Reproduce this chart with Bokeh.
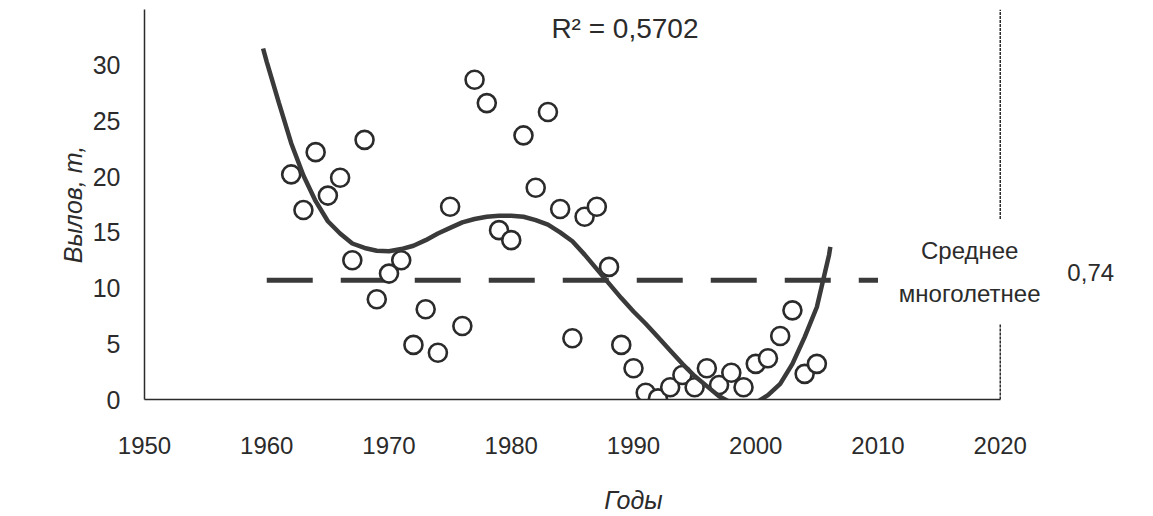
from bokeh.plotting import figure
from bokeh.models import Range1d, Label, FixedTicker
from bokeh.embed import file_html
from bokeh.resources import INLINE

# ---- data ----
years = list(range(1962, 2006))
catch = [20.2, 17.0, 22.2, 18.3, 19.9, 12.5, 23.3, 9.0, 11.3, 12.5,
         4.9, 8.1, 4.2, 17.3, 6.6, 28.7, 26.6, 15.2, 14.3, 23.7,
         19.0, 25.8, 17.1, 5.5, 16.4, 17.3, 11.9, 4.9, 2.8, 0.6,
         0.1, 1.1, 2.2, 1.1, 2.8, 1.3, 2.4, 1.1, 3.2, 3.7,
         5.7, 8.0, 2.3, 3.2]

trend_years = [1959.7] + list(range(1960, 2007)) + [2006.1]
trend_vals = [31.5, 30.3, 26.6, 23.0, 20.1, 17.8, 16.0, 14.9, 14.0, 13.6, 13.35,
              13.3, 13.5, 13.8, 14.3, 14.9, 15.4, 15.9, 16.2, 16.4, 16.5,
              16.5, 16.4, 16.1, 15.7, 15.0, 14.2, 13.0, 11.7, 10.4, 9.1,
              7.9, 6.8, 5.6, 4.4, 3.2, 2.1, 1.2, 0.3, -0.3, -0.5,
              -0.3, 0.4, 1.4, 3.2, 5.6, 8.3, 13.0, 13.7]

mean_years = [1960, 2010]
mean_value = 10.7

x_ticks = [1950, 1960, 1970, 1980, 1990, 2000, 2010, 2020]
y_ticks = [0, 5, 10, 15, 20, 25, 30]

FONT = "Liberation Sans"
INK = "#2b2b2b"

p = figure(width=1137, height=516, output_backend="svg", toolbar_location=None,
           x_range=Range1d(1950, 2030), y_range=Range1d(0, 35),
           min_border_left=144, min_border_right=15, min_border_top=9,
           min_border_bottom=117)
p.outline_line_color = None
p.xgrid.visible = False
p.ygrid.visible = False
p.background_fill_color = "white"
p.border_fill_color = "white"

for ax in (p.xaxis[0], p.yaxis[0]):
    ax.major_tick_line_color = None
    ax.minor_tick_line_color = None
    ax.major_tick_in = 0
    ax.major_tick_out = 0
    ax.axis_line_color = INK
    ax.axis_line_width = 1.5
    ax.major_label_text_font = FONT
    ax.major_label_text_font_size = "24px"
    ax.major_label_text_color = INK
    ax.axis_label_text_font = FONT
    ax.axis_label_text_font_size = "25px"
    ax.axis_label_text_font_style = "italic"
    ax.axis_label_text_color = INK

p.yaxis.major_label_text_font_size = "25px"
p.xaxis.ticker = FixedTicker(ticks=x_ticks)
p.yaxis.ticker = FixedTicker(ticks=y_ticks)
p.xaxis.bounds = (1950, 2020)
p.xaxis.axis_label = "Годы"
p.yaxis.axis_label = "Вылов, т,"
p.xaxis.major_label_standoff = 37
p.xaxis.axis_label_standoff = 29
p.yaxis.major_label_standoff = 24
p.yaxis.axis_label_standoff = 3

# right frame border (with a gap for the mean-line caption)
p.segment(x0=[2020, 2020], y0=[0, 16.2], x1=[2020, 2020], y1=[6.8, 35],
          line_color=INK, line_width=1.5, line_dash="3 1")

# mean line
p.line(mean_years, [mean_value, mean_value], line_color="#3a3a3a", line_width=5,
       line_dash="46 28")

# observations
p.scatter(years, catch, size=18, marker="circle", fill_color="white",
          line_color=INK, line_width=2.6)

# polynomial trend
p.line(trend_years, trend_vals, line_color="#3a3a3a", line_width=4.5)

p.add_layout(Label(x=1989.3, y=33.3, text="R² = 0,5702", text_font=FONT,
                   text_font_size="28px", text_color=INK, text_align="center",
                   text_baseline="middle"))
p.add_layout(Label(x=2017.5, y=13.4, text="Среднее", text_font=FONT,
                   text_font_size="24px", text_color=INK, text_align="center",
                   text_baseline="middle"))
p.add_layout(Label(x=2017.5, y=9.5, text="многолетнее", text_font=FONT,
                   text_font_size="24px", text_color=INK, text_align="center",
                   text_baseline="middle"))
p.add_layout(Label(x=2027.4, y=11.4, text="0,74", text_font=FONT,
                   text_font_size="24px", text_color=INK, text_align="center",
                   text_baseline="middle"))

open("out.html", "w").write(file_html(p, INLINE))
